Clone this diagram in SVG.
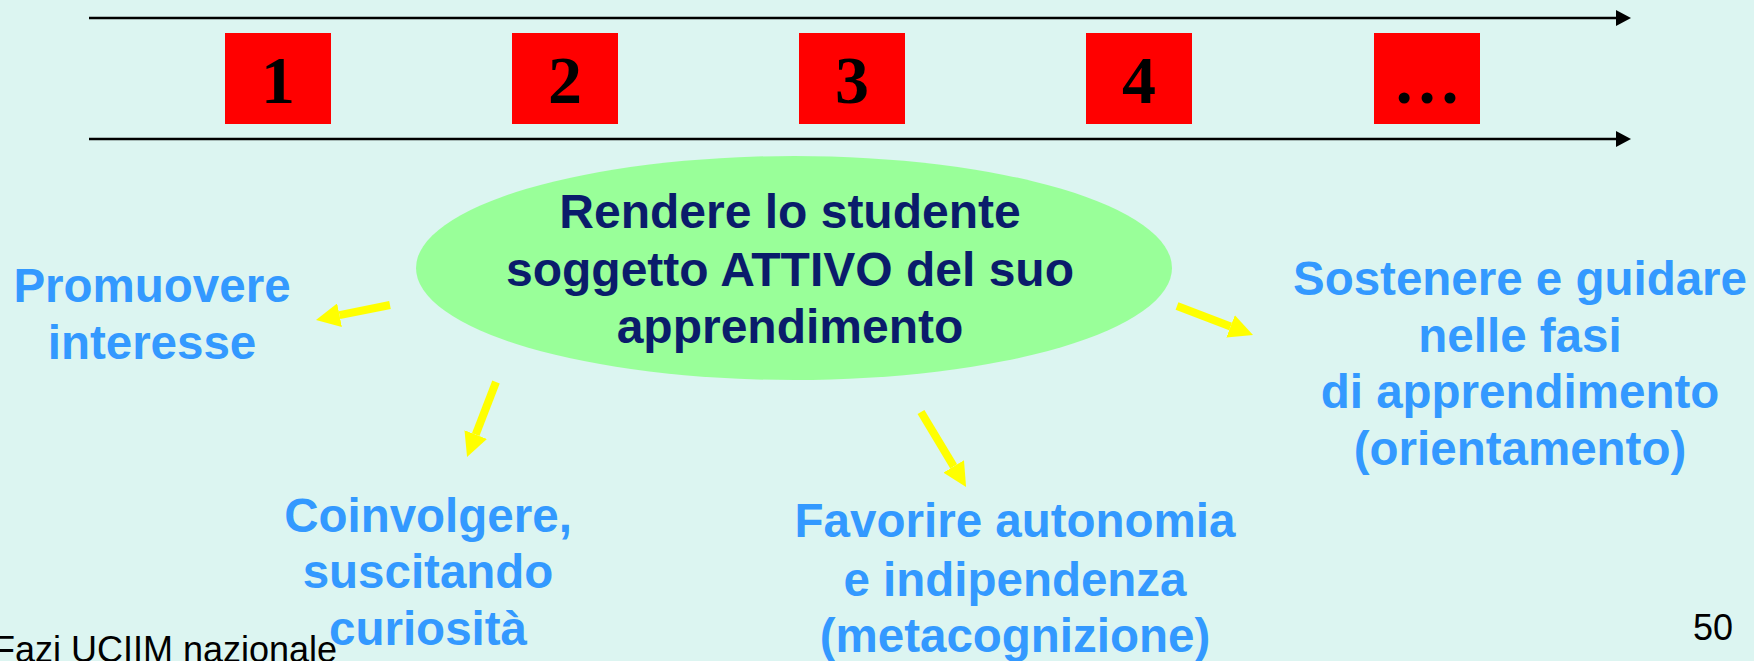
<svg xmlns="http://www.w3.org/2000/svg" width="1754" height="661" viewBox="0 0 1754 661">
<style>
.num{font-family:"Liberation Serif","Times New Roman",serif;font-weight:bold;font-size:68px;fill:#000;text-anchor:middle}
.blue{font-family:"Liberation Sans",Arial,sans-serif;font-weight:bold;font-size:47.5px;fill:#3399FF;text-anchor:middle}
.core{font-family:"Liberation Sans",Arial,sans-serif;font-weight:bold;font-size:48px;fill:#0A1C6B;text-anchor:middle}
.foot{font-family:"Liberation Sans",Arial,sans-serif;font-size:36px;fill:#000}
.box{fill:#FF0000}
.tl{stroke:#000;stroke-width:2.5;fill:none}
.ya{stroke:#FFFF00;stroke-width:8;fill:none}
</style>
<defs>
<marker id="ah" markerWidth="15" markerHeight="16" refX="0" refY="8" orient="auto" markerUnits="userSpaceOnUse"><path d="M0,0 L15,8 L0,16 z" fill="#000"/></marker>
<marker id="yh" markerWidth="3" markerHeight="3" refX="0" refY="1.5" orient="auto" markerUnits="strokeWidth"><path d="M0,0 L3,1.5 L0,3 z" fill="#FFFF00"/></marker>
</defs>
<rect width="1754" height="661" fill="#DCF5F1"/>
<g id="timeline">
<line class="tl" x1="89" y1="18" x2="1616" y2="18" marker-end="url(#ah)"/>
<line class="tl" x1="89" y1="139" x2="1616" y2="139" marker-end="url(#ah)"/>
</g>
<g id="step1"><rect class="box" x="225" y="33" width="106" height="91"/><text class="num" x="278" y="103">1</text></g>
<g id="step2"><rect class="box" x="512" y="33" width="106" height="91"/><text class="num" x="565" y="103">2</text></g>
<g id="step3"><rect class="box" x="799" y="33" width="106" height="91"/><text class="num" x="852" y="103">3</text></g>
<g id="step4"><rect class="box" x="1086" y="33" width="106" height="91"/><text class="num" x="1139" y="103">4</text></g>
<g id="step5"><rect class="box" x="1374" y="33" width="106" height="91"/><text class="num" x="1427" y="103">…</text></g>
<g id="center">
<ellipse cx="794" cy="268" rx="378" ry="112" fill="#99FF99"/>
<text class="core" x="790" y="228">Rendere lo studente</text>
<text class="core" x="790" y="286">soggetto ATTIVO del suo</text>
<text class="core" x="790" y="343">apprendimento</text>
</g>
<g id="connectors">
<line class="ya" x1="390" y1="305" x2="339.5" y2="315.2" marker-end="url(#yh)"/>
<line class="ya" x1="496" y1="382" x2="475.7" y2="434.6" marker-end="url(#yh)"/>
<line class="ya" x1="921" y1="412" x2="953.7" y2="466.4" marker-end="url(#yh)"/>
<line class="ya" x1="1177" y1="306" x2="1230.6" y2="326.4" marker-end="url(#yh)"/>
</g>
<g id="promuovere"><text class="blue" x="152" y="302">Promuovere</text><text class="blue" x="152" y="359">interesse</text></g>
<g id="coinvolgere"><text class="blue" x="428" y="532">Coinvolgere,</text><text class="blue" x="428" y="588">suscitando</text><text class="blue" x="428" y="645">curiosità</text></g>
<g id="favorire"><text class="blue" x="1015" y="537">Favorire autonomia</text><text class="blue" x="1015" y="596">e indipendenza</text><text class="blue" x="1015" y="652">(metacognizione)</text></g>
<g id="sostenere"><text class="blue" x="1520" y="295">Sostenere e guidare</text><text class="blue" x="1520" y="352">nelle fasi</text><text class="blue" x="1520" y="408">di apprendimento</text><text class="blue" x="1520" y="465">(orientamento)</text></g>
<g id="footer">
<text class="foot" x="-7" y="662">Fazi UCIIM nazionale</text>
<text class="foot" x="1693" y="640" font-size="35">50</text>
</g>
</svg>
